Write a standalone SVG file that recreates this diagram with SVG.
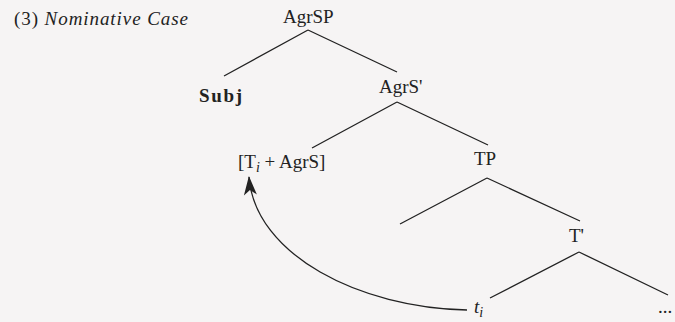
<svg xmlns="http://www.w3.org/2000/svg" width="675" height="322" viewBox="0 0 675 322">
<style>
.t{font-family:"Liberation Serif","Times New Roman",serif;font-size:19px;fill:#222}
.e{stroke:#222;stroke-width:1.3;fill:none}
</style>
<defs>
<marker id="ah" viewBox="0 0 20 14" refX="19" refY="7" markerWidth="20" markerHeight="14" markerUnits="userSpaceOnUse" orient="auto">
<path d="M20 7 L1 0.5 L6 7 L1 13.5 Z" fill="#222"/>
</marker>
</defs>
<rect width="675" height="322" fill="#f6f4f4"/>
<g id="title"><text class="t" x="14" y="25" font-size="18" textLength="174" lengthAdjust="spacing">(3) <tspan font-style="italic">Nominative Case</tspan></text></g>
<g id="AgrSP"><text class="t" x="283" y="23">AgrSP</text></g>
<g id="Subj"><text class="t" x="199" y="102" font-size="20" font-weight="bold" textLength="43" lengthAdjust="spacing">Subj</text></g>
<g id="AgrS1"><text class="t" x="379" y="93">AgrS'</text></g>
<g id="TAgrS"><text class="t" x="238" y="168">[T<tspan font-style="italic" font-size="14" dy="4">i</tspan><tspan dy="-4"> + AgrS]</tspan></text></g>
<g id="TP"><text class="t" x="474" y="165">TP</text></g>
<g id="T1"><text class="t" x="569" y="242">T'</text></g>
<g id="ti"><text class="t" x="474" y="313" font-style="italic">t<tspan font-size="14" dy="4">i</tspan></text></g>
<g id="dots"><text class="t" x="658" y="313">...</text></g>
<g id="connectors">
<path class="e" d="M308 30 L224 76 M308 30 L397 72"/>
<path class="e" d="M397 102 L312 148 M397 102 L488 145"/>
<path class="e" d="M487 178 L400 224 M487 178 L580 221"/>
<path class="e" d="M579 252 L490 298 M579 252 L668 295"/>
<path class="e" d="M467 310 C360 308 255 255 249 177" marker-end="url(#ah)" stroke-width="1.2"/>
</g>
</svg>
